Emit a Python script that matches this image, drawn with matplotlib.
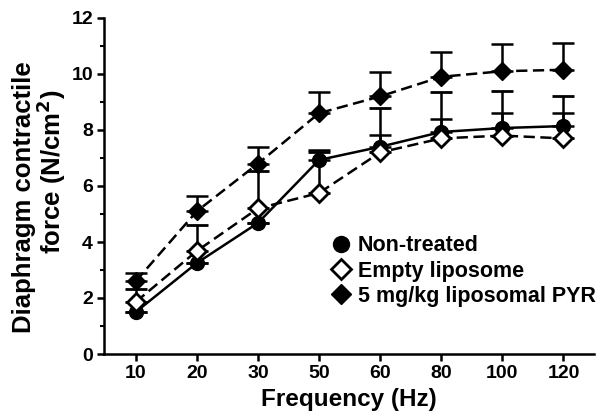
import numpy as np
import matplotlib
matplotlib.use("Agg")
import matplotlib.pyplot as plt
from matplotlib.lines import Line2D

freq_labels = ["10", "20", "30", "50", "60", "80", "100", "120"]

non_treated = [1.5, 3.25, 4.68, 6.93, 7.4, 7.93, 8.07, 8.14]
non_treated_err = [0.0, 0.0, 0.0, 0.36, 0.42, 0.46, 0.55, 0.46]

empty_lipo = [1.86, 3.68, 5.2, 5.75, 7.2, 7.7, 7.8, 7.7]
empty_lipo_err = [0.46, 0.92, 1.35, 1.45, 1.6, 1.67, 1.6, 1.52]

pyr = [2.6, 5.1, 6.8, 8.6, 9.2, 9.9, 10.1, 10.15]
pyr_err = [0.29, 0.54, 0.6, 0.76, 0.86, 0.9, 0.97, 0.95]

plt.rcParams['font.family'] = ['Liberation Sans', 'DejaVu Sans']
plt.rcParams['font.weight'] = 'bold'
plt.rcParams['mathtext.default'] = 'bf'

fig = plt.figure(figsize=(5.98, 4.19), dpi=100)
ax = fig.add_axes([104 / 598, 1 - 354 / 419, (594 - 104) / 598, (354 - 18) / 419])

x = np.arange(len(freq_labels))
lw = 1.8
dash = (0, (4.5, 2.2))
zeros = np.zeros(len(freq_labels))

ax.errorbar(x, non_treated, yerr=[zeros, non_treated_err], color='black', ls='-', lw=lw,
            marker='o', mfc='black', mec='black', ms=10, capsize=8, capthick=lw, elinewidth=lw)
ax.errorbar(x, empty_lipo, yerr=[zeros, empty_lipo_err], color='black', ls=dash, lw=lw,
            marker='D', mfc='white', mec='black', mew=2, ms=9, capsize=8, capthick=lw, elinewidth=lw)
ax.errorbar(x, pyr, yerr=[zeros, pyr_err], color='black', ls=dash, lw=lw,
            marker='D', mfc='black', mec='black', ms=9.5, capsize=8, capthick=lw, elinewidth=lw)

ax.set_xlim(-0.52, 7.5)
ax.set_ylim(0, 12)
ax.set_xticks(x)
ax.set_xticklabels(freq_labels)
ax.set_yticks(np.arange(0, 13, 2))
ax.set_yticks(np.arange(1, 12, 2), minor=True)

for s in ['top', 'right']:
    ax.spines[s].set_visible(False)
for s in ['left', 'bottom']:
    ax.spines[s].set_linewidth(1.8)
ax.tick_params(axis='both', which='major', width=1.8, length=5, labelsize=14, pad=3)
ax.tick_params(axis='y', which='minor', width=1.5, length=3)
ax.tick_params(axis='x', which='minor', bottom=False)

ax.set_xlabel("Frequency (Hz)", fontsize=17.5, fontweight='bold', labelpad=4)
# two-line y label, lines are offset from each other in the original
fig.text(24 / 598, 1 - 197 / 419, "Diaphragm contractile", rotation=90, ha='center', va='center',
         fontsize=18.5, fontweight='bold')
fig.text(51 / 598, 1 - 172 / 419, "force (N/cm$^{2}$)", rotation=90, ha='center', va='center',
         fontsize=18.5, fontweight='bold')

handles = [
    Line2D([], [], ls='none', marker='o', mfc='black', mec='black', ms=11.5),
    Line2D([], [], ls='none', marker='D', mfc='white', mec='black', mew=2, ms=10),
    Line2D([], [], ls='none', marker='D', mfc='black', mec='black', ms=10.5),
]
ax.legend(handles, ["Non-treated", "Empty liposome", "5 mg/kg liposomal PYR"],
          loc='upper left', bbox_to_anchor=(0.43, 0.398), frameon=False,
          prop={'size': 15.5, 'weight': 'bold'}, handlelength=1.0, handletextpad=0.3,
          labelspacing=0.2, borderpad=0.2)

fig.savefig("out.png", dpi=100)
